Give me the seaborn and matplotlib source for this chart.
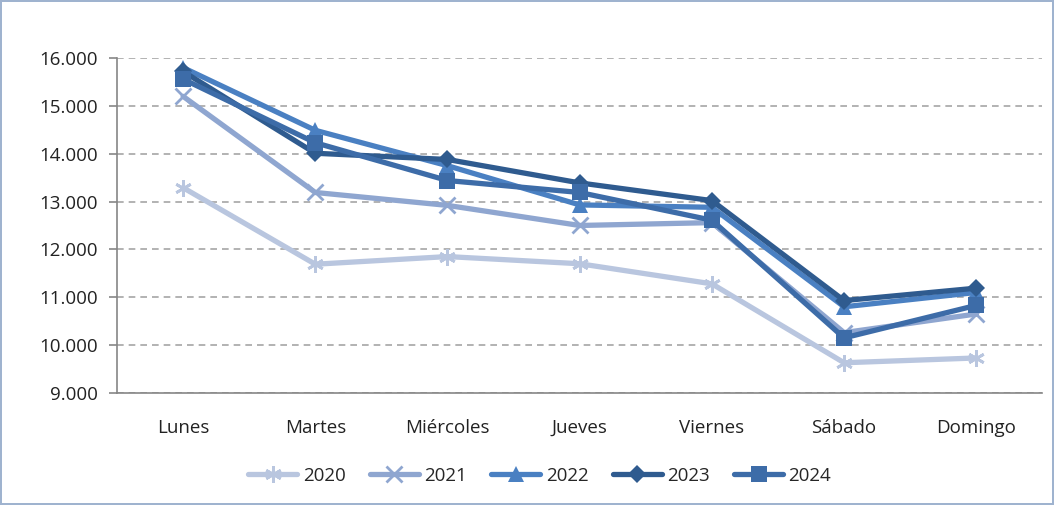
import pandas as pd
import matplotlib.pyplot as plt
import seaborn as sns
from matplotlib.ticker import FuncFormatter, FixedLocator

# Datos
dias = ['Lunes', 'Martes', 'Miércoles', 'Jueves', 'Viernes', 'Sábado', 'Domingo']
v2020 = [13290, 11690, 11850, 11700, 11280, 9630, 9730]
v2021 = [15200, 13190, 12920, 12500, 12560, 10260, 10650]
v2022 = [15800, 14490, 13750, 12930, 12880, 10800, 11100]
v2023 = [15720, 14010, 13880, 13390, 13020, 10930, 11190]
v2024 = [15560, 14230, 13440, 13190, 12610, 10150, 10830]

series = {'2020': v2020, '2021': v2021, '2022': v2022, '2023': v2023, '2024': v2024}
colores = {'2020': '#b9c6df', '2021': '#8fa6d0', '2022': '#4a80c2', '2023': '#2f5b8f', '2024': '#3d6ca8'}
marcadores = {'2020': (6, 2, 0), '2021': 'x', '2022': '^', '2023': 'D', '2024': 's'}
tamanos = {'2020': 12, '2021': 11, '2022': 11, '2023': 9, '2024': 11}

sns.set_style('white')
plt.rcParams['font.family'] = ['Open Sans', 'DejaVu Sans']

fig = plt.figure(figsize=(10.54, 5.05), dpi=100)
ax = fig.add_axes([0.111, 0.222, 0.878, 0.663])
fig.patch.set_edgecolor('#9fb3cf')
fig.patch.set_linewidth(1.5)

for anio, vals in series.items():
    df = pd.DataFrame({'Día': dias, 'Valor': vals})
    m = marcadores[anio]
    kw = dict(markeredgewidth=2) if m in ('x', (6, 2, 0)) else dict(markeredgewidth=0)
    sns.lineplot(data=df, x='Día', y='Valor', ax=ax, sort=False, color=colores[anio],
                 linewidth=3.8, marker=m, markersize=tamanos[anio],
                 markeredgecolor=colores[anio], label=anio, **kw)

ax.set_ylim(9000, 16000)
ax.set_xlim(-0.5, 6.5)
ax.set_yticks(range(9000, 16001, 1000))
ax.yaxis.set_major_formatter(FuncFormatter(lambda v, p: f'{int(v):,}'.replace(',', '.')))
ax.yaxis.grid(True, linestyle=(0, (4, 3)), color='#a6a6a6', linewidth=1.2)
ax.set_axisbelow(True)
ax.set_xlabel('')
ax.set_ylabel('')

for s in ['top', 'right']:
    ax.spines[s].set_visible(False)
for s in ['left', 'bottom']:
    ax.spines[s].set_color('#868686')
    ax.spines[s].set_linewidth(1.2)

ax.tick_params(axis='x', which='major', length=0, pad=19, labelsize=13.5, colors='#222222')
ax.xaxis.set_minor_locator(FixedLocator([i - 0.5 for i in range(8)]))
ax.tick_params(axis='x', which='minor', length=7, width=1.2, color='#868686', direction='out')
ax.tick_params(axis='y', which='major', length=6, width=1.2, color='#868686', labelsize=13.5,
               left=True, pad=8, labelcolor='#222222')

ax.legend(loc='upper center', bbox_to_anchor=(0.457, -0.17), ncol=5, frameon=False,
          fontsize=13.5, handlelength=2.6, columnspacing=1.3, handletextpad=0.3)

plt.savefig('out.png', dpi=100)
